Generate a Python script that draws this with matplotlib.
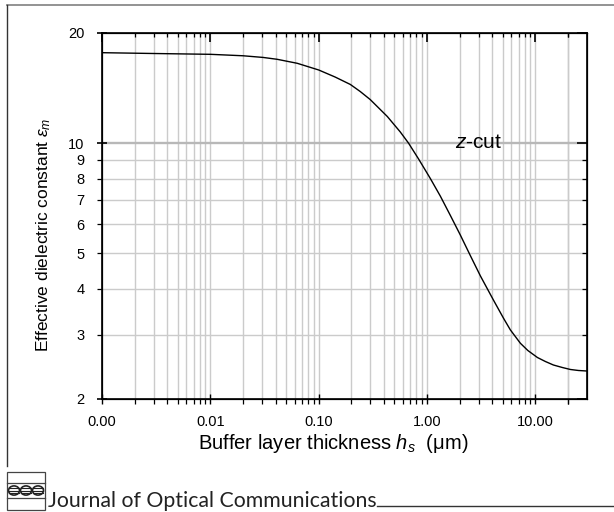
import matplotlib
matplotlib.use("Agg")
import matplotlib.pyplot as plt
from matplotlib.lines import Line2D
from matplotlib.patches import Rectangle, Circle
from matplotlib.ticker import FixedLocator, FixedFormatter, NullFormatter

# Effective dielectric constant vs. buffer layer thickness (z-cut)
thickness_um = [0.001, 0.003, 0.01, 0.0201, 0.0307, 0.0414, 0.0634, 0.1,
                0.142, 0.196, 0.242, 0.299, 0.43, 0.567, 0.676, 0.837,
                1.073, 1.327, 1.642, 2.032, 2.513, 3.109, 4.10, 5.07, 5.88,
                7.28, 8.54, 10.45, 12.39, 14.69, 17.79, 21.1, 25.0, 30.0]
eps_m = [17.67, 17.58, 17.49, 17.33, 17.15, 16.95, 16.53, 15.85,
         15.16, 14.47, 13.84, 13.16, 11.83, 10.73, 10.0, 9.05,
         8.01, 7.17, 6.35, 5.61, 4.93, 4.34, 3.73, 3.33, 3.09,
         2.84, 2.713, 2.597, 2.532, 2.477, 2.438, 2.408, 2.393, 2.385]

x_ticks = [0.001, 0.01, 0.1, 1, 10]
x_tick_labels = ["0.00", "0.01", "0.10", "1.00", "10.00"]
y_major = [2, 10, 20]
y_major_labels = ["2", "10", "20"]
y_minor = [3, 4, 5, 6, 7, 8, 9]
y_minor_labels = ["3", "4", "5", "6", "7", "8", "9"]

plt.rcParams["font.family"] = ["Liberation Sans", "DejaVu Sans"]
plt.rcParams["mathtext.fontset"] = "custom"
plt.rcParams["mathtext.rm"] = "Liberation Sans"
plt.rcParams["mathtext.it"] = "Liberation Sans:italic"
plt.rcParams["mathtext.bf"] = "Liberation Sans:bold"

W, H = 614, 512
fig = plt.figure(figsize=(W / 100, H / 100), dpi=100)
ax = fig.add_axes([102 / W, 1 - 399 / H, (587 - 102) / W, (399 - 33) / H])

ax.set_xscale("log")
ax.set_yscale("log")
ax.set_xlim(0.001, 30)
ax.set_ylim(2, 20)

# grid lines at every decade subdivision
xminor = [m * 10.0 ** e for e in range(-3, 2) for m in range(1, 10)] + [20]
xminor = [v for v in xminor if 0.001 < v < 30]
for v in xminor:
    ax.axvline(v, color="#cbcbcb", lw=1.0, zorder=0)
for v in y_minor:
    ax.axhline(v, color="#cbcbcb", lw=1.0, zorder=0)
ax.axhline(10, color="#b8b8b8", lw=1.7, zorder=0)

ax.plot(thickness_um, eps_m, color="black", lw=1.0, zorder=3)

# bottom / left axes: outward ticks with labels
ax.xaxis.set_major_locator(FixedLocator(x_ticks))
ax.xaxis.set_major_formatter(FixedFormatter(x_tick_labels))
ax.xaxis.set_minor_locator(FixedLocator(xminor))
ax.xaxis.set_minor_formatter(NullFormatter())
ax.yaxis.set_major_locator(FixedLocator(y_major))
ax.yaxis.set_major_formatter(FixedFormatter(y_major_labels))
ax.yaxis.set_minor_locator(FixedLocator(y_minor))
ax.yaxis.set_minor_formatter(FixedFormatter(y_minor_labels))
ax.tick_params(axis="x", which="major", direction="inout", length=7.5,
               width=1.0, labelsize=10.5, pad=7.5)
ax.tick_params(axis="x", which="minor", direction="out", length=3.3, width=0.9)
ax.tick_params(axis="y", which="major", direction="inout", length=7.5,
               width=1.2, labelsize=10.5, pad=9)
ax.tick_params(axis="y", which="minor", direction="out", length=3.6,
               width=0.9, labelsize=10.5, pad=9)
for s in ax.spines.values():
    s.set_linewidth(1.2)

# top / right axes: inward ticks, no labels
axt = ax.twiny()
axt.set_xscale("log")
axt.set_xlim(ax.get_xlim())
axt.xaxis.set_major_locator(FixedLocator(x_ticks))
axt.xaxis.set_minor_locator(FixedLocator(xminor))
axt.xaxis.set_major_formatter(NullFormatter())
axt.xaxis.set_minor_formatter(NullFormatter())
axt.tick_params(axis="x", which="major", direction="in", length=6.5, width=1.2)
axt.tick_params(axis="x", which="minor", direction="in", length=3.2, width=0.9)
axt.yaxis.set_visible(False)

axr = ax.twinx()
axr.set_yscale("log")
axr.set_ylim(ax.get_ylim())
axr.yaxis.set_major_locator(FixedLocator(y_major))
axr.yaxis.set_minor_locator(FixedLocator(y_minor))
axr.yaxis.set_major_formatter(NullFormatter())
axr.yaxis.set_minor_formatter(NullFormatter())
axr.tick_params(axis="y", which="major", direction="in", length=7, width=1.2)
axr.tick_params(axis="y", which="minor", direction="in", length=3.6, width=0.9)
axr.xaxis.set_visible(False)

ax.set_xlabel(r"Buffer layer thickness $\mathit{h}_{\mathit{s}}$  (μm)",
              fontsize=14.5)
ax.xaxis.set_label_coords(0.476, -0.09)
ax.set_ylabel(r"Effective dielectric constant $\mathit{ε}_{\mathit{m}}$",
              fontsize=12.5)
ax.yaxis.set_label_coords(-0.101, 0.45)

ax.text(1.83, 9.7, r"$\mathit{z}$-cut", fontsize=15, ha="left",
        va="baseline", zorder=4)

# page frame
fig.add_artist(Line2D([7 / W, 1], [1 - 5 / H] * 2, color="#8a8a8a", lw=1.3,
                      transform=fig.transFigure))
fig.add_artist(Line2D([7 / W] * 2, [1 - 5 / H, 1 - 466 / H], color="#333333",
                      lw=1.0, transform=fig.transFigure))

# journal logo
fig.add_artist(Rectangle((7 / W, 1 - 510 / H), 38 / W, 38 / H, fill=False,
                         ec="#444444", lw=0.9, transform=fig.transFigure))
for yy in (483, 498):
    fig.add_artist(Line2D([7 / W, 45 / W], [1 - yy / H] * 2, color="#444444",
                          lw=0.9, transform=fig.transFigure))
for cx in (14, 26, 38):
    fig.add_artist(Circle((cx / W, 1 - 490.5 / H), 5.5 / W, fill=False,
                          ec="#222222", lw=1.2, transform=fig.transFigure))
    for dy in (-2.5, 0, 2.5):
        fig.add_artist(Line2D([(cx - 5) / W, (cx + 5) / W],
                              [1 - (490.5 + dy) / H] * 2, color="#222222",
                              lw=0.8, transform=fig.transFigure))
fig.text(48 / W, 1 - 507 / H, "Journal of Optical Communications",
         fontsize=15.3, family="Lato", color="#222222", ha="left",
         va="baseline")
fig.add_artist(Line2D([377 / W, 1], [1 - 506 / H] * 2, color="#333333",
                      lw=1.0, transform=fig.transFigure))

fig.savefig("out.png", dpi=100)
